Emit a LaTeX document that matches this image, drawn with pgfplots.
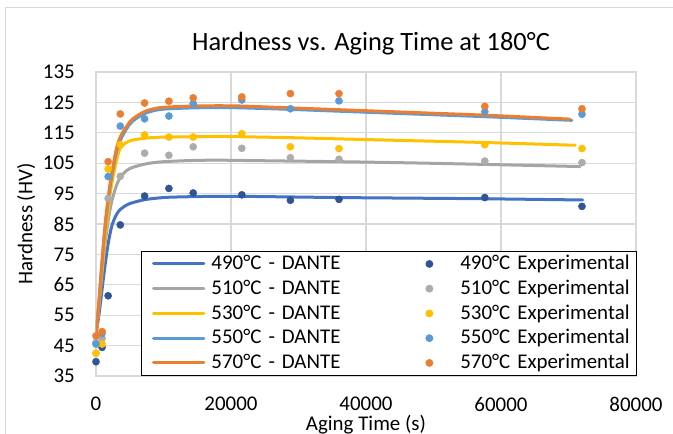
\documentclass[border=0pt]{standalone}
\usepackage{fontspec}
\setmainfont{Carlito}
\usepackage{pgfplots}
\pgfplotsset{compat=1.18}
\definecolor{c490}{HTML}{4472C4}
\definecolor{c510}{HTML}{A5A5A5}
\definecolor{c530}{HTML}{FFC000}
\definecolor{c550}{HTML}{5B9BD5}
\definecolor{c570}{HTML}{ED7D31}
\definecolor{e490}{HTML}{2F5597}
\definecolor{e510}{HTML}{AFABAB}
\definecolor{gridc}{HTML}{D9D9D9}
\pgfplotsset{
  lineleg/.style={legend image code/.code={\path (0bp,0bp); \draw[##1] (10.5bp,0bp) -- (60.8bp,0bp);}},
  dotleg/.style={legend image code/.code={\draw[##1] plot coordinates {(0bp,0bp)};}},
  dante/.style={forget plot, line width=3bp, line cap=round, smooth},
  expt/.style={forget plot, only marks, mark=*, mark size=3.6bp, mark options={draw=none}},
}
\newcommand{\fs}{\fontsize{21}{25}\selectfont}
\begin{document}
\begin{tikzpicture}
\path[use as bounding box] (-96bp,-58bp) rectangle (577bp,376bp);
\draw[color=gridc, line width=1bp] (-90bp,-80bp) -- (-90bp,368bp) -- (620bp,368bp);
\begin{axis}[
  at={(0,0)}, anchor=south west,
  scale only axis, width=540bp, height=304bp,
  xmin=0, xmax=80000, ymin=35, ymax=135,
  xtick={0,20000,40000,60000,80000},
  ytick={35,45,55,65,75,85,95,105,115,125,135},
  scaled x ticks=false,
  /pgf/number format/assume math mode=true,
  /pgf/number format/1000 sep={},
  xticklabel style={font=\fs, anchor=north, inner sep=0pt, yshift=-21bp},
  yticklabel style={font=\fs, anchor=east, inner sep=0pt, xshift=-21bp},
  major tick length=0pt,
  grid=major,
  major grid style={draw=gridc, line width=1.2bp},
  axis line style={draw=gridc, line width=1.2bp},
  title={Hardness vs. Aging Time at 180°C},
  every axis title/.style={at={(axis description cs:0.5093,1.0691)}, anchor=base, inner sep=0pt, font=\fontsize{26.5}{30}\selectfont},
  xlabel={Aging Time (s)}, ylabel={Hardness (HV)},
  every axis x label/.style={at={(axis description cs:0.5,-0.1809)}, anchor=base, inner sep=0pt, font=\fs},
  every axis y label/.style={at={(axis description cs:-0.118,0.5)}, rotate=90, anchor=base, inner sep=0pt, font=\fs},
  legend columns=2,
  legend cell align=left,
  legend style={
    at={(axis description cs:0.08333,0)}, anchor=south west,
    draw=black, line width=1bp, fill=white,
    inner xsep=0pt, inner ysep=0.2bp,
    font=\fs,
    row sep=0pt,
    nodes={inner sep=0pt, text height=18.1bp, text depth=6.65bp},
    /tikz/column 1/.style={column sep=6.2bp},
    /tikz/column 2/.style={column sep=82.5bp, nodes={text width=132bp}},
    /tikz/column 3/.style={column sep=27.5bp},
    /tikz/column 4/.style={nodes={text width=176bp}},
  },
]
% DANTE curves
\addplot[dante, color=c490] coordinates {
(0,49) (300,53) (600,58) (900,63.5) (1200,69) (1500,74) (1800,78.5) (2100,82) (2400,84.8)
(3000,88) (3600,89.8) (4500,91.2) (5400,92) (7200,93) (9000,93.5) (10800,93.8) (14400,94)
(18000,94.1) (21600,94.1) (28800,93.9) (36000,93.7) (46800,93.5) (57600,93.3) (72100,92.9)};
\addplot[dante, color=c510] coordinates {
(0,48) (300,55) (600,62) (900,69) (1200,75.5) (1500,81) (1800,86) (2100,90) (2400,93)
(3000,97.5) (3600,100.3) (4500,102.5) (5400,103.6) (7200,104.7) (9000,105.3) (10800,105.6) (14400,105.9)
(18000,106) (21600,105.9) (28800,105.7) (36000,105.5) (46800,105.1) (57600,104.6) (71700,103.9)};
\addplot[dante, color=c530] coordinates {
(0,47.5) (300,55) (600,62.5) (900,70) (1200,77) (1500,83.5) (1800,89) (2100,95) (2400,99)
(3000,105.5) (3600,110) (4500,111.8) (5400,112.6) (7200,113.2) (9000,113.5) (10800,113.6) (14400,113.7)
(18000,113.8) (21600,113.7) (28800,113.4) (36000,113) (46800,112.4) (57600,111.8) (71000,110.9)};
\addplot[dante, color=c550] coordinates {
(0,48) (300,55.5) (600,64) (900,72.5) (1200,80.5) (1500,87) (1800,92.5) (2100,97.5) (2400,101.5)
(3000,108.5) (3600,112.5) (4500,116.2) (5400,118.8) (7200,121.3) (9000,122.5) (10800,122.9) (14400,123.2)
(18000,123.3) (21600,123.2) (28800,122.7) (36000,122.1) (46800,121.2) (57600,120.3) (70500,119.1)};
\addplot[dante, color=c570] coordinates {
(0,48.5) (300,56) (600,64.5) (900,73) (1200,81) (1500,88) (1800,93.5) (2100,98.5) (2400,102.5)
(3000,109.5) (3600,113.7) (4500,117) (5400,119.5) (7200,122) (9000,123.1) (10800,123.5) (14400,123.8)
(18000,123.9) (21600,123.8) (28800,123.2) (36000,122.6) (46800,121.7) (57600,120.8) (70200,119.5)};
% Experimental
\addplot[expt, color=e490] coordinates {
(0,39.7) (900,44.4) (1800,61.4) (3600,84.7) (7200,94.2) (10800,96.7) (14400,95.2)
(21600,94.6) (28800,92.8) (36000,93.1) (57600,93.7) (72000,90.8)};
\addplot[expt, color=e510] coordinates {
(0,46) (900,47.4) (1800,93.4) (3600,100.7) (7200,108.3) (10800,107.6) (14400,110.4)
(21600,109.9) (28800,106.8) (36000,106.3) (57600,105.7) (72000,105.2)};
\addplot[expt, color=c530] coordinates {
(0,42.5) (900,45.5) (1800,103.1) (3600,111.1) (7200,114.3) (10800,113.6) (14400,113.6)
(21600,114.7) (28800,110.4) (36000,109.8) (57600,111.1) (72000,109.8)};
\addplot[expt, color=c550] coordinates {
(0,45.5) (900,49) (1800,100.6) (3600,117.2) (7200,119.6) (10800,120.5) (14400,124.6)
(21600,125.8) (28800,122.9) (36000,125.5) (57600,121.9) (72000,121.1)};
\addplot[expt, color=c570] coordinates {
(0,48.2) (900,49.6) (1800,105.5) (3600,121.2) (7200,124.8) (10800,125.4) (14400,126.5)
(21600,126.8) (28800,127.9) (36000,127.9) (57600,123.7) (72000,122.9)};
% Legend
\addlegendimage{lineleg, color=c490, line width=3bp, line cap=round}
\addlegendentry{490°C - DANTE}
\addlegendimage{dotleg, color=e490, only marks, mark=*, mark size=3.4bp, mark options={draw=none}}
\addlegendentry{490°C Experimental}
\addlegendimage{lineleg, color=c510, line width=3bp, line cap=round}
\addlegendentry{510°C - DANTE}
\addlegendimage{dotleg, color=e510, only marks, mark=*, mark size=3.4bp, mark options={draw=none}}
\addlegendentry{510°C Experimental}
\addlegendimage{lineleg, color=c530, line width=3bp, line cap=round}
\addlegendentry{530°C - DANTE}
\addlegendimage{dotleg, color=c530, only marks, mark=*, mark size=3.4bp, mark options={draw=none}}
\addlegendentry{530°C Experimental}
\addlegendimage{lineleg, color=c550, line width=3bp, line cap=round}
\addlegendentry{550°C - DANTE}
\addlegendimage{dotleg, color=c550, only marks, mark=*, mark size=3.4bp, mark options={draw=none}}
\addlegendentry{550°C Experimental}
\addlegendimage{lineleg, color=c570, line width=3bp, line cap=round}
\addlegendentry{570°C - DANTE}
\addlegendimage{dotleg, color=c570, only marks, mark=*, mark size=3.4bp, mark options={draw=none}}
\addlegendentry{570°C Experimental}
\end{axis}
\end{tikzpicture}
\end{document}
